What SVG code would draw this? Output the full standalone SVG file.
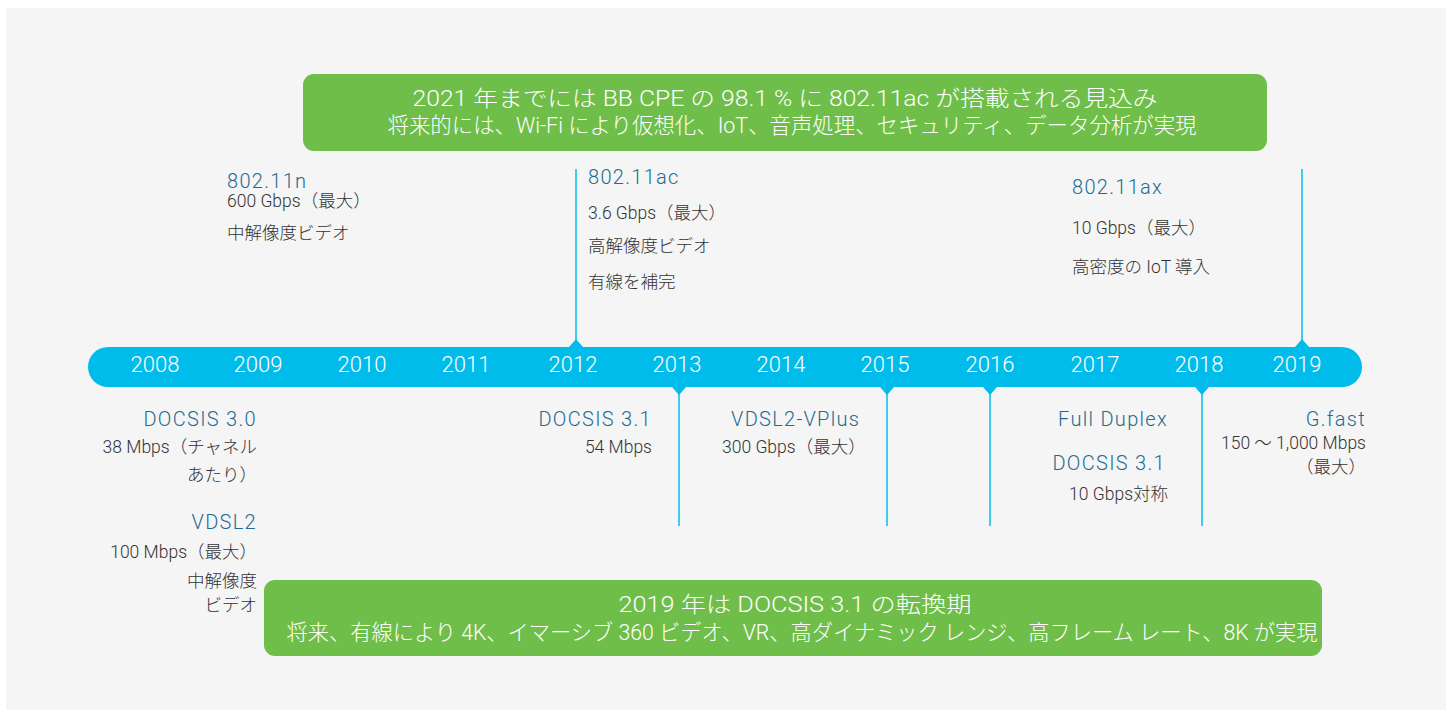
<svg xmlns="http://www.w3.org/2000/svg" width="1449" height="717" viewBox="0 0 1449 717">
<style>
text{font-family:Roboto,"Noto Sans CJK JP",sans-serif;font-weight:300}
.yr{fill:#ffffff;font-size:22px;text-anchor:middle}
.hd{fill:#1e6b91;font-size:20px;letter-spacing:1.3px}
.tx{fill:#333333;font-size:17.5px}
.bn{fill:#ffffff;font-size:21.5px;text-anchor:middle}
.e{text-anchor:end}
.ln{stroke:#00bceb;stroke-width:1.5;fill:none}
.tri{fill:#00bceb}
.box{fill:#6fbe4a}
</style>
<rect x="0" y="0" width="1449" height="717" fill="#ffffff"/>
<rect x="6" y="8" width="1440" height="702" fill="#f5f5f5"/>
<g id="banner-top">
<rect class="box" x="303" y="74" width="964" height="77" rx="11"/>
<text class="bn" x="785" y="106" textLength="745" lengthAdjust="spacingAndGlyphs">2021 年までには BB CPE の 98.1 % に 802.11ac が搭載される見込み</text>
<text class="bn" x="792" y="133" textLength="809" lengthAdjust="spacingAndGlyphs">将来的には、Wi-Fi により仮想化、IoT、音声処理、セキュリティ、データ分析が実現</text>
</g>
<g id="timeline">
<rect x="88" y="347" width="1274" height="40" rx="20" fill="#00bceb"/>
<text class="yr" x="155" y="372">2008</text>
<text class="yr" x="258" y="372">2009</text>
<text class="yr" x="362" y="372">2010</text>
<text class="yr" x="466" y="372">2011</text>
<text class="yr" x="573" y="372">2012</text>
<text class="yr" x="677" y="372">2013</text>
<text class="yr" x="781" y="372">2014</text>
<text class="yr" x="885" y="372">2015</text>
<text class="yr" x="990" y="372">2016</text>
<text class="yr" x="1095" y="372">2017</text>
<text class="yr" x="1199" y="372">2018</text>
<text class="yr" x="1297" y="372">2019</text>
</g>
<g id="connectors">
<line class="ln" x1="576" y1="169" x2="576" y2="342"/>
<polygon class="tri" points="569,347 583,347 576,339"/>
<line class="ln" x1="1302" y1="169" x2="1302" y2="342"/>
<polygon class="tri" points="1295,347 1309,347 1302,339"/>
<line class="ln" x1="679" y1="390" x2="679" y2="526"/>
<polygon class="tri" points="672,387 686,387 679,395"/>
<line class="ln" x1="887" y1="390" x2="887" y2="526"/>
<polygon class="tri" points="880,387 894,387 887,395"/>
<line class="ln" x1="990" y1="390" x2="990" y2="526"/>
<polygon class="tri" points="983,387 997,387 990,395"/>
<line class="ln" x1="1202" y1="390" x2="1202" y2="526"/>
<polygon class="tri" points="1195,387 1209,387 1202,395"/>
</g>
<g id="n-80211n">
<text class="hd" x="227" y="188">802.11n</text>
<text class="tx" x="227" y="207">600 Gbps（最大）</text>
<text class="tx" x="227" y="239">中解像度ビデオ</text>
</g>
<g id="n-80211ac">
<text class="hd" x="588" y="184">802.11ac</text>
<text class="tx" x="588" y="219">3.6 Gbps（最大）</text>
<text class="tx" x="588" y="252">高解像度ビデオ</text>
<text class="tx" x="588" y="288">有線を補完</text>
</g>
<g id="n-80211ax">
<text class="hd" x="1072" y="194">802.11ax</text>
<text class="tx" x="1072" y="234">10 Gbps（最大）</text>
<text class="tx" x="1072" y="273">高密度の IoT 導入</text>
</g>
<g id="n-docsis30">
<text class="hd e" x="257" y="426">DOCSIS 3.0</text>
<text class="tx e" x="257" y="453">38 Mbps（チャネル</text>
<text class="tx e" x="257" y="481">あたり）</text>
</g>
<g id="n-vdsl2">
<text class="hd e" x="257" y="529">VDSL2</text>
<text class="tx e" x="257" y="558">100 Mbps（最大）</text>
<text class="tx e" x="257" y="587">中解像度</text>
<text class="tx e" x="257" y="611">ビデオ</text>
</g>
<g id="n-docsis31">
<text class="hd e" x="652" y="426">DOCSIS 3.1</text>
<text class="tx e" x="652" y="453">54 Mbps</text>
</g>
<g id="n-vplus">
<text class="hd" x="731" y="426">VDSL2-VPlus</text>
<text class="tx" x="722" y="453">300 Gbps（最大）</text>
</g>
<g id="n-fullduplex">
<text class="hd e" x="1168" y="426">Full Duplex</text>
<text class="hd e" x="1166" y="470">DOCSIS 3.1</text>
<text class="tx e" x="1168" y="500">10 Gbps対称</text>
</g>
<g id="n-gfast">
<text class="hd e" x="1366" y="426">G.fast</text>
<text class="tx e" x="1366" y="449">150 ～ 1,000 Mbps</text>
<text class="tx e" x="1366" y="473">（最大）</text>
</g>
<g id="banner-bottom">
<rect class="box" x="264" y="580" width="1058" height="76" rx="11"/>
<text class="bn" x="795" y="612" textLength="353" lengthAdjust="spacingAndGlyphs">2019 年は DOCSIS 3.1 の転換期</text>
<text class="bn" x="802" y="640" textLength="1031" lengthAdjust="spacingAndGlyphs">将来、有線により 4K、イマーシブ 360 ビデオ、VR、高ダイナミック レンジ、高フレーム レート、8K が実現</text>
</g>
</svg>
